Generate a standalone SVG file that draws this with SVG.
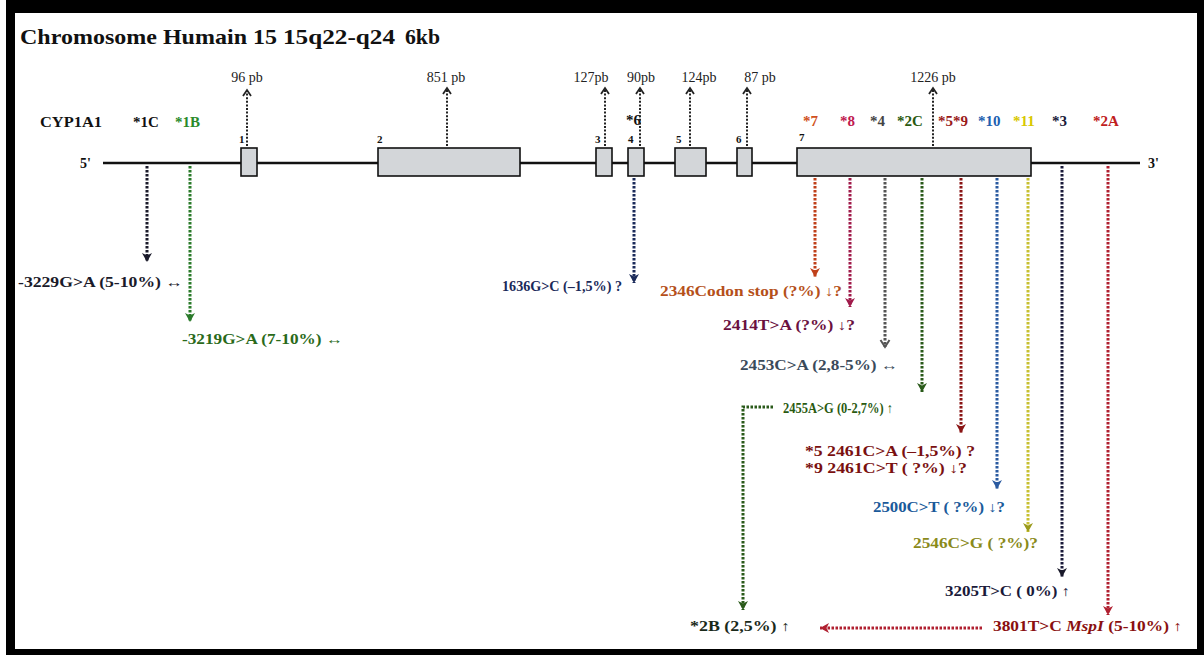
<svg xmlns="http://www.w3.org/2000/svg" width="1204" height="655" viewBox="0 0 1204 655">
<style>
.t{font-family:"Liberation Serif","Times New Roman",serif;font-weight:bold}
.pb{font-family:"Liberation Serif","Times New Roman",serif;font-size:14px;fill:#222}
.lab{font-size:14px}
.star{font-size:15px}
.num{font-size:11px;fill:#111}
.ex{fill:#d3d6d9;stroke:#111;stroke-width:1.6}
.up{stroke:#222;stroke-width:2;stroke-dasharray:2 1.6;fill:none}
.dn{stroke-width:3;stroke-dasharray:2.5 1.5;fill:none}
</style>
<defs>
<marker id="mUp" markerUnits="userSpaceOnUse" markerWidth="12" markerHeight="12" refX="8" refY="6" orient="auto"><path d="M2,2 L8,6 L2,10" fill="none" stroke="#222" stroke-width="1.8"/></marker>
<marker id="mBk" markerUnits="userSpaceOnUse" markerWidth="12" markerHeight="12" refX="10" refY="6" orient="auto"><path d="M1,1 L10,6 L1,11 L3.5,6 Z" fill="#1a1a2a"/></marker>
<marker id="mGr" markerUnits="userSpaceOnUse" markerWidth="12" markerHeight="12" refX="10" refY="6" orient="auto"><path d="M1,1 L10,6 L1,11 L3.5,6 Z" fill="#2a7a2a"/></marker>
<marker id="mNv" markerUnits="userSpaceOnUse" markerWidth="12" markerHeight="12" refX="10" refY="6" orient="auto"><path d="M1,1 L10,6 L1,11 L3.5,6 Z" fill="#1a2a5a"/></marker>
<marker id="mOr" markerUnits="userSpaceOnUse" markerWidth="12" markerHeight="12" refX="10" refY="6" orient="auto"><path d="M1,1 L10,6 L1,11 L3.5,6 Z" fill="#c0401a"/></marker>
<marker id="mCr" markerUnits="userSpaceOnUse" markerWidth="12" markerHeight="12" refX="10" refY="6" orient="auto"><path d="M1,1 L10,6 L1,11 L3.5,6 Z" fill="#a01a4a"/></marker>
<marker id="mGy" markerUnits="userSpaceOnUse" markerWidth="12" markerHeight="12" refX="9" refY="6" orient="auto"><path d="M2,1.5 L9,6 L2,10.5" fill="none" stroke="#555" stroke-width="2"/></marker>
<marker id="mDg" markerUnits="userSpaceOnUse" markerWidth="12" markerHeight="12" refX="10" refY="6" orient="auto"><path d="M1,1 L10,6 L1,11 L3.5,6 Z" fill="#2a5a1a"/></marker>
<marker id="mDr" markerUnits="userSpaceOnUse" markerWidth="12" markerHeight="12" refX="10" refY="6" orient="auto"><path d="M1,1 L10,6 L1,11 L3.5,6 Z" fill="#8a1515"/></marker>
<marker id="mBl" markerUnits="userSpaceOnUse" markerWidth="12" markerHeight="12" refX="10" refY="6" orient="auto"><path d="M1,1 L10,6 L1,11 L3.5,6 Z" fill="#2a5aa0"/></marker>
<marker id="mYl" markerUnits="userSpaceOnUse" markerWidth="12" markerHeight="12" refX="10" refY="6" orient="auto"><path d="M1,1 L10,6 L1,11 L3.5,6 Z" fill="#9a9a1a"/></marker>
<marker id="mRd" markerUnits="userSpaceOnUse" markerWidth="12" markerHeight="12" refX="10" refY="6" orient="auto"><path d="M1,1 L10,6 L1,11 L3.5,6 Z" fill="#b02030"/></marker>
</defs>
<rect x="0" y="0" width="1204" height="655" fill="#fff"/>
<rect x="6" y="0" width="1198" height="655" fill="#000"/>
<rect x="15" y="13" width="1182" height="636" fill="#fff"/>

<g id="title">
<text class="t" x="20" y="44" font-size="22" fill="#111" textLength="257" lengthAdjust="spacingAndGlyphs">Chromosome Humain 15</text>
<text class="t" x="283" y="44" font-size="22" fill="#111" textLength="112" lengthAdjust="spacingAndGlyphs">15q22-q24</text>
<text class="t" x="405" y="44" font-size="22" fill="#111" textLength="35" lengthAdjust="spacingAndGlyphs">6kb</text>
</g>

<g id="gene">
<line x1="103" y1="163" x2="1140" y2="163" stroke="#111" stroke-width="2.5"/>
<text class="t" x="80" y="168" font-size="14" fill="#111">5'</text>
<text class="t" x="1148" y="168" font-size="14" fill="#111">3'</text>
<text class="t" x="40" y="127" font-size="14" fill="#111" textLength="62" lengthAdjust="spacingAndGlyphs">CYP1A1</text>
</g>

<g id="exon1"><rect class="ex" x="241" y="148" width="16" height="28"/><text class="t num" x="239" y="143">1</text></g>
<g id="exon2"><rect class="ex" x="378" y="148" width="142" height="28"/><text class="t num" x="377" y="143">2</text></g>
<g id="exon3"><rect class="ex" x="596" y="148" width="16" height="28"/><text class="t num" x="595" y="143">3</text></g>
<g id="exon4"><rect class="ex" x="628" y="148" width="16" height="28"/><text class="t num" x="628" y="143">4</text></g>
<g id="exon5"><rect class="ex" x="675" y="148" width="31" height="28"/><text class="t num" x="676" y="143">5</text></g>
<g id="exon6"><rect class="ex" x="737" y="148" width="15" height="28"/><text class="t num" x="736" y="143">6</text></g>
<g id="exon7"><rect class="ex" x="797" y="148" width="234" height="28"/><text class="t num" x="799" y="141">7</text></g>

<g id="sizes">
<text class="pb" x="247" y="82" text-anchor="middle">96 pb</text>
<text class="pb" x="446" y="82" text-anchor="middle">851 pb</text>
<text class="pb" x="591" y="82" text-anchor="middle">127pb</text>
<text class="pb" x="641" y="82" text-anchor="middle">90pb</text>
<text class="pb" x="699" y="82" text-anchor="middle">124pb</text>
<text class="pb" x="760" y="82" text-anchor="middle">87 pb</text>
<text class="pb" x="933" y="82" text-anchor="middle">1226 pb</text>
</g>

<g id="stars">
<text class="t star" x="133" y="127" fill="#111">*1C</text>
<text class="t star" x="175" y="127" fill="#2a8a2a">*1B</text>
<text class="t star" x="626" y="125" fill="#111">*6</text>
<text class="t star" x="803" y="126" fill="#d05020">*7</text>
<text class="t star" x="840" y="126" fill="#c01a50">*8</text>
<text class="t star" x="870" y="126" fill="#444">*4</text>
<text class="t star" x="897" y="126" fill="#2a5a10">*2C</text>
<text class="t star" x="938" y="126" fill="#9a1a1a">*5*9</text>
<text class="t star" x="978" y="126" fill="#2060b0">*10</text>
<text class="t star" x="1013" y="126" fill="#d8c800">*11</text>
<text class="t star" x="1052" y="126" fill="#1a1a3a">*3</text>
<text class="t star" x="1093" y="126" fill="#c02020">*2A</text>
</g>

<g id="connectors">
<line class="up" x1="247" y1="146" x2="247" y2="90" marker-end="url(#mUp)"/>
<line class="up" x1="447" y1="146" x2="447" y2="88" marker-end="url(#mUp)"/>
<line class="up" x1="605" y1="146" x2="605" y2="88" marker-end="url(#mUp)"/>
<line class="up" x1="640" y1="146" x2="640" y2="88" marker-end="url(#mUp)"/>
<line class="up" x1="690" y1="146" x2="690" y2="88" marker-end="url(#mUp)"/>
<line class="up" x1="747" y1="146" x2="747" y2="88" marker-end="url(#mUp)"/>
<line class="up" x1="933" y1="146" x2="933" y2="88" marker-end="url(#mUp)"/>

<line class="dn" stroke="#1a1a2a" x1="147" y1="166" x2="147" y2="262" marker-end="url(#mBk)"/>
<line class="dn" stroke="#2a7a2a" x1="190" y1="166" x2="190" y2="322" marker-end="url(#mGr)"/>
<line class="dn" stroke="#1a2a5a" x1="634" y1="178" x2="634" y2="283" marker-end="url(#mNv)"/>
<line class="dn" stroke="#c0401a" x1="815" y1="178" x2="815" y2="277" marker-end="url(#mOr)"/>
<line class="dn" stroke="#a01a4a" x1="850" y1="178" x2="850" y2="307" marker-end="url(#mCr)"/>
<line class="dn" stroke="#555" stroke-width="2" x1="885" y1="178" x2="885" y2="347" marker-end="url(#mGy)"/>
<line class="dn" stroke="#2a5a1a" x1="922" y1="178" x2="922" y2="392" marker-end="url(#mDg)"/>
<line class="dn" stroke="#8a1515" x1="961" y1="178" x2="961" y2="433" marker-end="url(#mDr)"/>
<line class="dn" stroke="#2a5aa0" x1="997" y1="178" x2="997" y2="489" marker-end="url(#mBl)"/>
<line class="dn" stroke="#c8c030" x1="1028" y1="178" x2="1028" y2="532" marker-end="url(#mYl)"/>
<line class="dn" stroke="#1a1a3a" x1="1062" y1="166" x2="1062" y2="577" marker-end="url(#mBk)"/>
<line class="dn" stroke="#b02030" x1="1108" y1="166" x2="1108" y2="615" marker-end="url(#mRd)"/>
<path class="dn" stroke="#2a5a1a" d="M773,407 L743,407 L743,610" marker-end="url(#mDg)"/>
<line class="dn" stroke="#b02030" x1="982" y1="628" x2="820" y2="628" marker-end="url(#mRd)"/>
</g>

<g id="labels">
<text class="t lab" x="18" y="287" fill="#1a1a2a" textLength="165" lengthAdjust="spacingAndGlyphs">-3229G&gt;A (5-10%) ↔</text>
<text class="t lab" x="182" y="344" fill="#2a6a1a" textLength="161" lengthAdjust="spacingAndGlyphs">-3219G&gt;A (7-10%) ↔</text>
<text class="t lab" x="502" y="291" fill="#1a2a5a" textLength="120" lengthAdjust="spacingAndGlyphs">1636G&gt;C (–1,5%) ?</text>
<text class="t lab" x="660" y="296" fill="#b5501a" textLength="182" lengthAdjust="spacingAndGlyphs">2346Codon stop (?%) ↓?</text>
<text class="t lab" x="723" y="330" fill="#6a1040" textLength="132" lengthAdjust="spacingAndGlyphs">2414T&gt;A (?%) ↓?</text>
<text class="t lab" x="740" y="370" fill="#3a4a5a" font-weight="normal" textLength="158" lengthAdjust="spacingAndGlyphs">2453C&gt;A (2,8-5%) ↔</text>
<text class="t lab" x="783" y="413" fill="#2a5a10" textLength="110" lengthAdjust="spacingAndGlyphs">2455A&gt;G (0-2,7%) ↑</text>
<text class="t lab" x="805" y="456" fill="#7a1010" textLength="170" lengthAdjust="spacingAndGlyphs">*5  2461C&gt;A (–1,5%) ?</text>
<text class="t lab" x="805" y="473" fill="#7a1010" textLength="162" lengthAdjust="spacingAndGlyphs">*9  2461C&gt;T ( ?%) ↓?</text>
<text class="t lab" x="873" y="512" fill="#1a5a9a" textLength="132" lengthAdjust="spacingAndGlyphs">2500C&gt;T ( ?%) ↓?</text>
<text class="t lab" x="913" y="548" fill="#8a8a1a" textLength="125" lengthAdjust="spacingAndGlyphs">2546C&gt;G ( ?%)?</text>
<text class="t lab" x="945" y="596" fill="#1a1a3a" textLength="125" lengthAdjust="spacingAndGlyphs">3205T&gt;C ( 0%) ↑</text>
<text class="t lab" x="690" y="631" fill="#1a2a1a" textLength="100" lengthAdjust="spacingAndGlyphs">*2B (2,5%) ↑</text>
<text class="t lab" x="993" y="631" fill="#8a1010" textLength="189" lengthAdjust="spacingAndGlyphs">3801T&gt;C  <tspan font-style="italic">MspI</tspan> (5-10%) ↑</text>
</g>
</svg>
